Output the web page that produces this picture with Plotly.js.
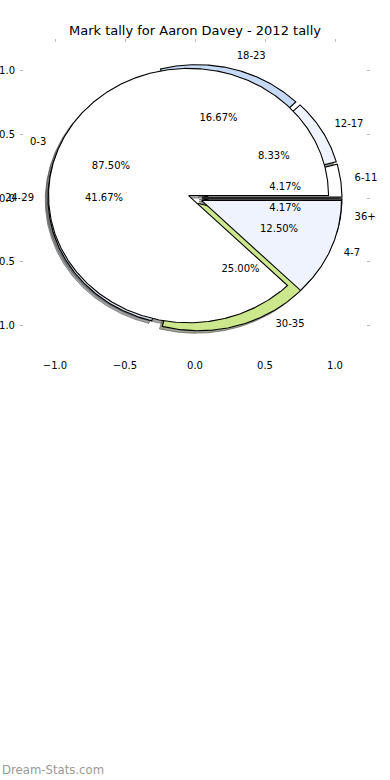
<!DOCTYPE html>
<html>
<head>
<meta charset="utf-8">
<script src="https://cdn.plot.ly/plotly-3.0.1.min.js"></script>
<style>html,body{margin:0;padding:0;background:#fff;}#chart{width:390px;height:780px;}</style>
</head>
<body>
<div id="chart"></div>
<script>
// ---- data ----
const titleText = 'Mark tally for Aaron Davey - 2012 tally';
// first pie (drawn on top)
const pieALabels = ['0-3', '4-7'];
const pieAValues = [87.50, 12.50];
const pieAColors = ['#ffffff', '#eef3fd'];
// second pie (drawn underneath)
const pieBLabels = ['6-11', '12-17', '18-23', '24-29', '30-35', '36+'];
const pieBValues = [4.17, 8.33, 16.67, 41.67, 25.00, 4.17];
const pieBColors = ['#ffffff', '#eef3fd', '#c6d9f5', '#dfe6f1', '#cde88c', '#8c8c8c'];
const tickVals = [-1.0, -0.5, 0.0, 0.5, 1.0];
const watermark = 'Dream-Stats.com';

// pie options (matplotlib-like)
const explodeAmt = 0.05, radius = 1, labelDist = 1.1, pctDist = 0.6;
const shadowOff = [-0.02, -0.02];
const FONT = 'DejaVu Sans, sans-serif';

function hexToRgb(h) {
  const n = parseInt(h.slice(1), 16);
  return [(n >> 16) & 255, (n >> 8) & 255, n & 255];
}

function buildPie(labels, values, colors) {
  const total = values.reduce((a, b) => a + b, 0);
  let t1 = 0;
  const wedges = [];
  values.forEach((v, i) => {
    const frac = v / total;
    const t2 = t1 + frac;
    const tm = Math.PI * (t1 + t2);
    const cx = explodeAmt * Math.cos(tm), cy = explodeAmt * Math.sin(tm);
    const xs = [cx], ys = [cy];
    const a1 = 2 * Math.PI * t1, a2 = 2 * Math.PI * t2;
    const n = Math.max(2, Math.ceil((a2 - a1) / (Math.PI / 360)));
    for (let k = 0; k <= n; k++) {
      const a = a1 + (a2 - a1) * k / n;
      xs.push(cx + radius * Math.cos(a));
      ys.push(cy + radius * Math.sin(a));
    }
    xs.push(cx); ys.push(cy);
    const lx = cx + labelDist * radius * Math.cos(tm);
    const ly = cy + labelDist * radius * Math.sin(tm);
    const px = cx + pctDist * radius * Math.cos(tm);
    const py = cy + pctDist * radius * Math.sin(tm);
    wedges.push({xs, ys, color: colors[i], label: labels[i], pct: (frac * 100).toFixed(2) + '%', lx, ly, px, py});
    t1 = t2;
  });
  return wedges;
}

const pieA = buildPie(pieALabels, pieAValues, pieAColors);
const pieB = buildPie(pieBLabels, pieBValues, pieBColors);

const traces = [];
function addShadows(pie) {
  pie.forEach(w => {
    const [r, g, b] = hexToRgb(w.color);
    const c = `rgba(${Math.round(r * 0.3)},${Math.round(g * 0.3)},${Math.round(b * 0.3)},0.5)`;
    traces.push({
      type: 'scatter', mode: 'lines', fill: 'toself',
      x: w.xs.map(v => v + shadowOff[0]), y: w.ys.map(v => v + shadowOff[1]),
      fillcolor: c, line: {color: c, width: 1}, hoverinfo: 'skip', xaxis: 'x', yaxis: 'y'
    });
  });
}
function addWedges(pie) {
  pie.forEach(w => {
    traces.push({
      type: 'scatter', mode: 'lines', fill: 'toself',
      x: w.xs, y: w.ys, fillcolor: w.color,
      line: {color: '#000000', width: 1.1}, hoverinfo: 'skip', xaxis: 'x', yaxis: 'y'
    });
  });
}
addShadows(pieB); addShadows(pieA);
addWedges(pieB); addWedges(pieA);

function addTexts(pie) {
  pie.forEach(w => {
    traces.push({
      type: 'scatter', mode: 'text', x: [w.lx], y: [w.ly], text: [w.label],
      textposition: w.lx > 0 ? 'middle right' : 'middle left',
      textfont: {family: FONT, size: 10, color: '#000'}, hoverinfo: 'skip', cliponaxis: false
    });
    traces.push({
      type: 'scatter', mode: 'text', x: [w.px], y: [w.py], text: [w.pct],
      textposition: 'middle center',
      textfont: {family: FONT, size: 10, color: '#000'}, hoverinfo: 'skip', cliponaxis: false
    });
  });
}
addTexts(pieB); addTexts(pieA);

// dummy trace for top axis
traces.push({type: 'scatter', mode: 'markers', x: [0], y: [0], xaxis: 'x2', yaxis: 'y',
  marker: {opacity: 0}, hoverinfo: 'skip'});

const layout = {
  width: 390, height: 780,
  margin: {l: 20, r: 20, t: 39, b: 423, pad: 0},
  paper_bgcolor: '#ffffff', plot_bgcolor: '#ffffff',
  showlegend: false,
  font: {family: FONT, size: 10, color: '#000'},
  title: {text: titleText, font: {family: FONT, size: 13, color: '#000'},
    x: 0.5, xanchor: 'center', xref: 'container', y: 1 - 30 / 780, yanchor: 'middle', yref: 'container'},
  xaxis: {range: [-1.25, 1.25], tickvals: tickVals, tickformat: '.1f', ticks: '',
    showgrid: false, zeroline: false, showline: false, automargin: false, ticklabelstandoff: 1,
    tickfont: {family: FONT, size: 10, color: '#000'}, fixedrange: true},
  xaxis2: {range: [-1.25, 1.25], tickvals: tickVals, overlaying: 'x', side: 'top',
    showticklabels: false, ticks: 'inside', ticklen: 3, tickwidth: 1, tickcolor: '#bbbbbb',
    showgrid: false, zeroline: false, showline: false, automargin: false, fixedrange: true},
  yaxis: {range: [-1.25, 1.25], tickvals: tickVals, tickformat: '.1f', ticks: 'inside',
    ticklen: 3, tickwidth: 1, tickcolor: '#bbbbbb', mirror: 'ticks', ticklabelstandoff: 4,
    showgrid: false, zeroline: false, showline: false, automargin: false,
    tickfont: {family: FONT, size: 10, color: '#000'}, fixedrange: true},
  annotations: [{
    text: watermark, xref: 'paper', yref: 'paper', x: -20 / 350, y: (357 - 770) / 318,
    xanchor: 'left', yanchor: 'middle', showarrow: false,
    font: {family: FONT, size: 11.7, color: '#999999'}
  }]
};

Plotly.newPlot('chart', traces, layout, {staticPlot: true, displayModeBar: false});
</script>
</body>
</html>
